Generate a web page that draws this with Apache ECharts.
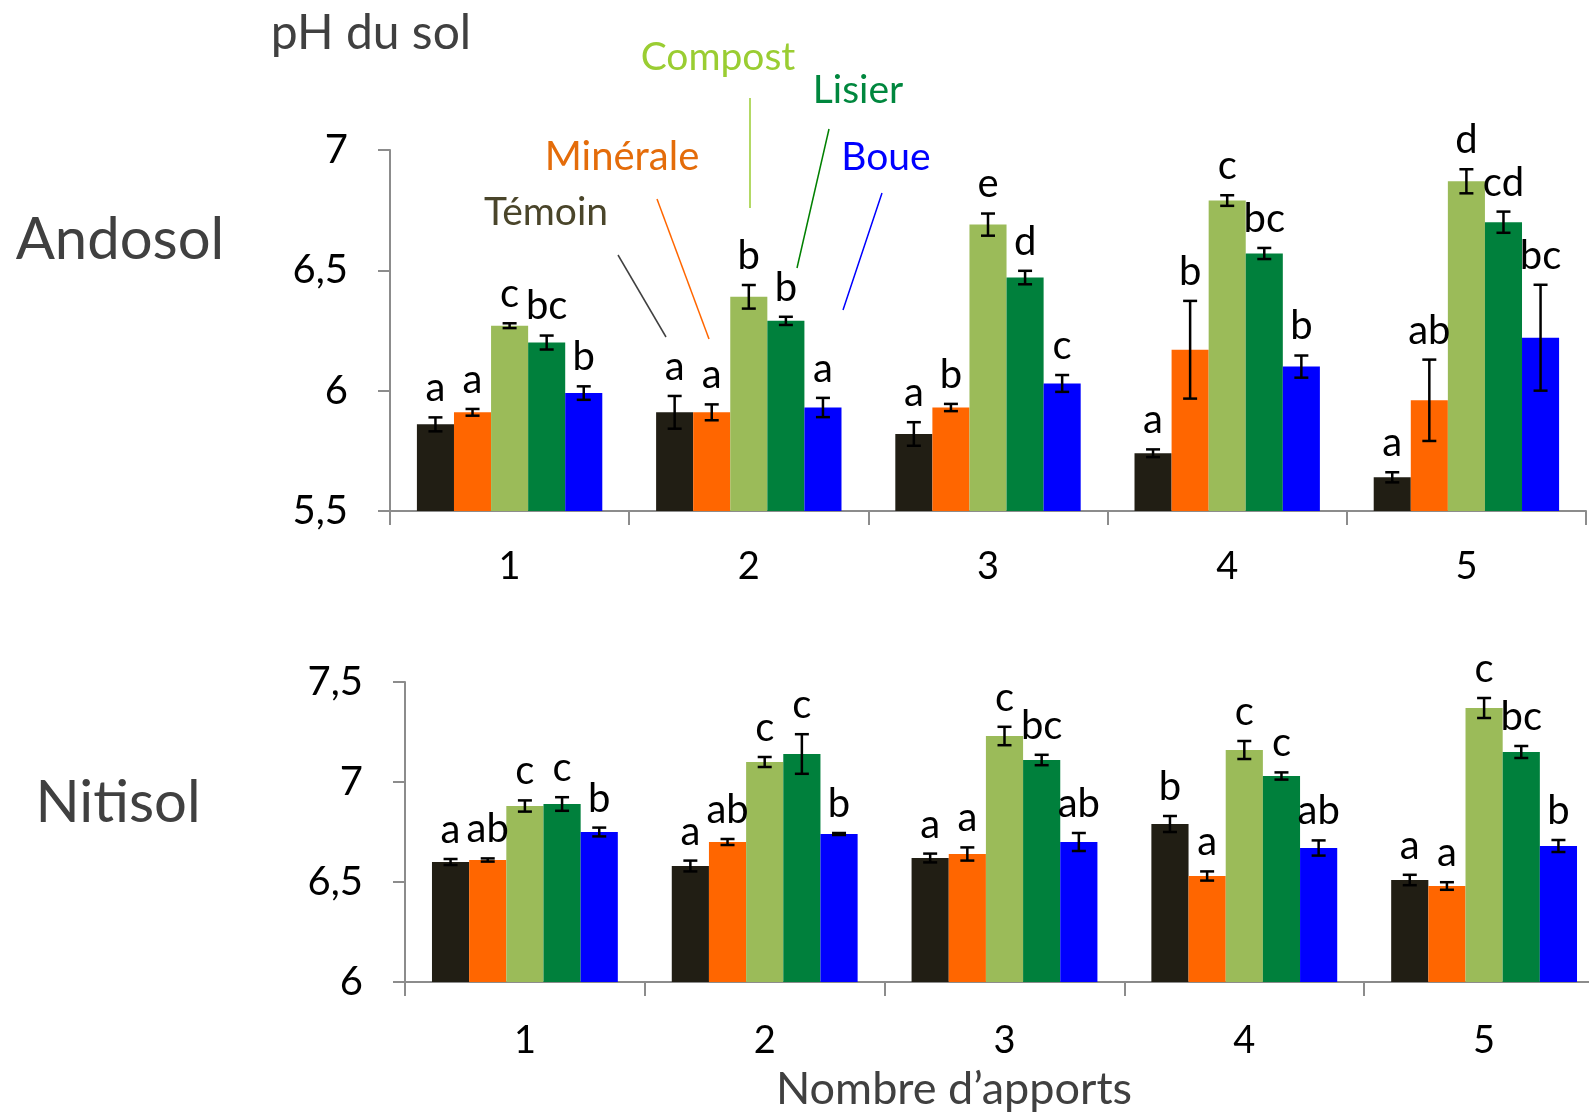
<!DOCTYPE html>
<html>
<head>
<meta charset="utf-8">
<script src="https://cdn.jsdelivr.net/npm/echarts@6/dist/echarts.min.js"></script>
<style>
  html, body { margin: 0; padding: 0; background: #ffffff; overflow: hidden; }
  /* the lower panel runs slightly past the right edge of the window */
  #chart { width: 1620px; height: 1114px; }
</style>
</head>
<body>
<div id="chart"></div>
<script>
// Number of applications (x axis)
const categories = ['1', '2', '3', '4', '5'];
const treatments = ['Témoin', 'Minérale', 'Compost', 'Lisier', 'Boue'];
const barColors = ['#211E14', '#FF6600', '#9BBB59', '#00803C', '#0000FF'];

// Y axis tick values
const andosolTicks = [5.5, 6, 6.5, 7];
const nitisolTicks = [6, 6.5, 7, 7.5];

// Andosol soil pH (mean per treatment, by number of applications)
const andTemoin   = [5.86, 5.91, 5.82, 5.74, 5.64];
const andMinerale = [5.91, 5.91, 5.93, 6.17, 5.96];
const andCompost  = [6.27, 6.39, 6.69, 6.79, 6.87];
const andLisier   = [6.20, 6.29, 6.47, 6.57, 6.70];
const andBoue     = [5.99, 5.93, 6.03, 6.10, 6.22];
// Andosol standard errors
const andTemoinErr   = [0.029, 0.068, 0.049, 0.016, 0.021];
const andMineraleErr = [0.014, 0.033, 0.015, 0.203, 0.169];
const andCompostErr  = [0.010, 0.049, 0.046, 0.022, 0.050];
const andLisierErr   = [0.029, 0.017, 0.028, 0.023, 0.044];
const andBoueErr     = [0.028, 0.040, 0.035, 0.046, 0.220];
// Andosol significance letters
const andTemoinSig   = ['a', 'a', 'a', 'a', 'a'];
const andMineraleSig = ['a', 'a', 'b', 'b', 'ab'];
const andCompostSig  = ['c', 'b', 'e', 'c', 'd'];
const andLisierSig   = ['bc', 'b', 'd', 'bc', 'cd'];
const andBoueSig     = ['b', 'a', 'c', 'b', 'bc'];

// Nitisol soil pH
const nitTemoin   = [6.60, 6.58, 6.62, 6.79, 6.51];
const nitMinerale = [6.61, 6.70, 6.64, 6.53, 6.48];
const nitCompost  = [6.88, 7.10, 7.23, 7.16, 7.37];
const nitLisier   = [6.89, 7.14, 7.11, 7.03, 7.15];
const nitBoue     = [6.75, 6.74, 6.70, 6.67, 6.68];
// Nitisol standard errors
const nitTemoinErr   = [0.015, 0.027, 0.022, 0.040, 0.026];
const nitMineraleErr = [0.008, 0.015, 0.033, 0.023, 0.019];
const nitCompostErr  = [0.028, 0.025, 0.046, 0.045, 0.050];
const nitLisierErr   = [0.034, 0.099, 0.026, 0.018, 0.030];
const nitBoueErr     = [0.022, 0.005, 0.045, 0.038, 0.030];
// Nitisol significance letters
const nitTemoinSig   = ['a', 'a', 'a', 'b', 'a'];
const nitMineraleSig = ['ab', 'ab', 'a', 'a', 'a'];
const nitCompostSig  = ['c', 'c', 'c', 'c', 'c'];
const nitLisierSig   = ['c', 'c', 'bc', 'c', 'bc'];
const nitBoueSig     = ['b', 'b', 'ab', 'ab', 'b'];

const FONT = 'Lato, "Open Sans", sans-serif';
const GROUP_FRACTION = 0.775;   // share of a category occupied by the bar group

const andosol = {
  values: [andTemoin, andMinerale, andCompost, andLisier, andBoue],
  errors: [andTemoinErr, andMineraleErr, andCompostErr, andLisierErr, andBoueErr],
  letters: [andTemoinSig, andMineraleSig, andCompostSig, andLisierSig, andBoueSig]
};
const nitisol = {
  values: [nitTemoin, nitMinerale, nitCompost, nitLisier, nitBoue],
  errors: [nitTemoinErr, nitMineraleErr, nitCompostErr, nitLisierErr, nitBoueErr],
  letters: [nitTemoinSig, nitMineraleSig, nitCompostSig, nitLisierSig, nitBoueSig]
};

function barSeries(soil, axisIdx) {
  return treatments.map((name, t) => ({
    name: name,
    type: 'bar',
    xAxisIndex: axisIdx,
    yAxisIndex: axisIdx,
    barGap: '0%',
    barCategoryGap: ((1 - GROUP_FRACTION) * 100) + '%',
    itemStyle: { color: barColors[t] },
    data: soil.values[t],
    z: 2
  }));
}

// Error bars and letter labels, placed over each bar of the group
function errorSeries(soil, axisIdx) {
  const data = [];
  const labels = [];
  for (let t = 0; t < treatments.length; t++) {
    for (let c = 0; c < categories.length; c++) {
      data.push([c, t, soil.values[t][c], soil.errors[t][c]]);
      labels.push(soil.letters[t][c]);
    }
  }
  return {
    type: 'custom',
    xAxisIndex: axisIdx,
    yAxisIndex: axisIdx,
    z: 10,
    data: data,
    renderItem: function (params, api) {
      const c = api.value(0), t = api.value(1), v = api.value(2), e = api.value(3);
      const center = api.coord([c, v]);
      const catW = api.size([1, 0])[0];
      const bw = catW * GROUP_FRACTION / treatments.length;
      const x = center[0] + (t - (treatments.length - 1) / 2) * bw;
      const yHi = api.coord([c, v + e])[1];
      const yLo = api.coord([c, v - e])[1];
      const cap = 7;
      const ls = { stroke: '#000', lineWidth: 2.5 };
      return {
        type: 'group',
        children: [
          { type: 'line', shape: { x1: x, y1: yHi, x2: x, y2: yLo }, style: ls },
          { type: 'line', shape: { x1: x - cap, y1: yHi, x2: x + cap, y2: yHi }, style: ls },
          { type: 'line', shape: { x1: x - cap, y1: yLo, x2: x + cap, y2: yLo }, style: ls },
          {
            type: 'text', x: x, y: yHi - 9,
            style: {
              text: labels[params.dataIndex], fill: '#000',
              font: '40px ' + FONT, align: 'center', verticalAlign: 'bottom'
            }
          }
        ]
      };
    }
  };
}

const axisLineStyle = { color: '#8C8C8C', width: 2 };

function xAxis(gridIdx, margin) {
  return {
    type: 'category', gridIndex: gridIdx, data: categories,
    axisLine: { show: true, lineStyle: axisLineStyle },
    axisTick: { show: true, length: 14, lineStyle: axisLineStyle },
    axisLabel: { color: '#000', fontSize: 38, fontFamily: FONT, margin: margin },
    splitLine: { show: false }
  };
}

function yAxis(gridIdx, ticks) {
  return {
    type: 'value', gridIndex: gridIdx,
    min: ticks[0], max: ticks[ticks.length - 1], interval: ticks[1] - ticks[0],
    axisLine: { show: true, lineStyle: axisLineStyle },
    axisTick: { show: true, length: 12, lineStyle: axisLineStyle },
    axisLabel: {
      color: '#000', fontSize: 40, fontFamily: FONT, margin: 42,
      formatter: v => String(v).replace('.', ',')
    },
    splitLine: { show: false }
  };
}

function text(str, x, y, size, color, align) {
  return {
    type: 'text', x: x, y: y,
    style: { text: str, fill: color, font: size + 'px ' + FONT, align: align || 'center', verticalAlign: 'middle' }
  };
}
function leader(x1, y1, x2, y2, color) {
  return { type: 'line', shape: { x1, y1, x2, y2 }, style: { stroke: color, lineWidth: 1.5 } };
}

const chart = echarts.init(document.getElementById('chart'), null, { renderer: 'canvas' });
chart.setOption({
  animation: false,
  backgroundColor: '#ffffff',
  grid: [
    { left: 390, top: 150, width: 1196, height: 361 },
    { left: 405, top: 682, width: 1199, height: 300 }
  ],
  xAxis: [xAxis(0, 37), xAxis(1, 40)],
  yAxis: [yAxis(0, andosolTicks), yAxis(1, nitisolTicks)],
  series: [
    ...barSeries(andosol, 0),
    ...barSeries(nitisol, 1),
    errorSeries(andosol, 0),
    errorSeries(nitisol, 1)
  ],
  graphic: [
    text('pH du sol', 371, 34, 48, '#404040'),
    text('Andosol', 120, 240, 58, '#404040'),
    text('Nitisol', 118, 803, 58, '#404040'),
    text('Nombre d\u2019apports', 954, 1089, 45, '#404040'),
    text('Compost', 718, 57, 39, '#9ACD32'),
    text('Lisier', 858, 90, 39, '#00873E'),
    text('Minérale', 622, 157, 40, '#E46C0A'),
    text('Boue', 886, 157, 39, '#0000FF'),
    text('Témoin', 546, 212, 39, '#4A452A'),
    leader(618, 255, 666, 337, '#404040'),
    leader(657, 199, 709, 339, '#FF6600'),
    leader(750, 98, 750, 208, '#9ACD32'),
    leader(829, 129, 797, 268, '#008000'),
    leader(882, 193, 843, 310, '#0000FF')
  ]
});
</script>
</body>
</html>
